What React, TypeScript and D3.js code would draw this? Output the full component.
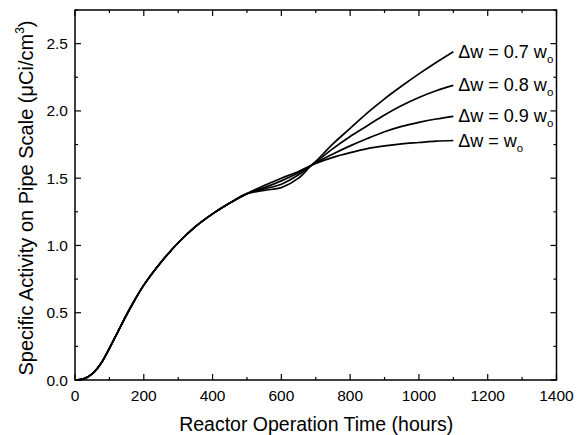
import React from "react";
import * as d3 from "d3";

const commonTime = [0, 25, 50, 75, 100, 125, 150, 175, 200, 250, 300, 350, 400, 450, 500];
const commonValue = [0, 0.008, 0.045, 0.12, 0.235, 0.36, 0.485, 0.6, 0.705, 0.875, 1.02, 1.14, 1.235, 1.315, 1.385];

const branchTime = [550, 600, 650, 683, 700, 750, 800, 850, 900, 950, 1000, 1050, 1100];
const series07 = [1.41, 1.43, 1.5, 1.585, 1.625, 1.755, 1.87, 1.985, 2.09, 2.185, 2.275, 2.36, 2.44];
const series08 = [1.42, 1.455, 1.525, 1.587, 1.62, 1.72, 1.81, 1.89, 1.97, 2.04, 2.1, 2.15, 2.19];
const series09 = [1.43, 1.48, 1.54, 1.589, 1.615, 1.68, 1.74, 1.795, 1.845, 1.885, 1.915, 1.94, 1.96];
const series10 = [1.445, 1.5, 1.55, 1.59, 1.61, 1.655, 1.69, 1.72, 1.74, 1.755, 1.765, 1.775, 1.78];

const seriesLabels = ["0.7 w", "0.8 w", "0.9 w", "w"];
const xTicks = [0, 200, 400, 600, 800, 1000, 1200, 1400];
const yTicks = [0, 0.5, 1.0, 1.5, 2.0, 2.5];

export default function App() {
  const W = 583, H = 435;
  const left = 75, right = 556.5, top = 10, bottom = 380;
  const x = d3.scaleLinear().domain([0, 1400]).range([left, right]);
  const y = d3.scaleLinear().domain([0, 2.75]).range([bottom, top]);
  const line = d3
    .line<[number, number]>()
    .x((d) => x(d[0]))
    .y((d) => y(d[1]))
    .curve(d3.curveCatmullRom.alpha(0.5));

  const common: [number, number][] = commonTime.map((t, i) => [t, commonValue[i]]);
  const allSeries = [series07, series08, series09, series10];
  const full = allSeries.map((s) => common.concat(branchTime.map((t, i) => [t, s[i]] as [number, number])));

  const xMinor = d3.range(0, 1401, 100);
  const yMinor = d3.range(0, 2.76, 0.25);
  const font = "Arial, 'Liberation Sans', Helvetica, sans-serif";

  return (
    <svg width={W} height={H} style={{ position: "absolute", left: 0, top: 0 }} fontFamily={font}>
      <rect x={0} y={0} width={W} height={H} fill="white" />
      <rect x={left} y={top} width={right - left} height={bottom - top} fill="none" stroke="black" strokeWidth={1.5} />
      {xMinor.map((t) => {
        const major = t % 200 === 0;
        const len = major ? 6 : 3;
        return (
          <g key={"xt" + t}>
            <line x1={x(t)} x2={x(t)} y1={bottom} y2={bottom - len} stroke="black" strokeWidth={1.2} />
            <line x1={x(t)} x2={x(t)} y1={top} y2={top + len} stroke="black" strokeWidth={1.2} />
          </g>
        );
      })}
      {yMinor.map((v) => {
        const major = Math.abs(v * 2 - Math.round(v * 2)) < 1e-6;
        const len = major ? 6 : 3;
        return (
          <g key={"yt" + v}>
            <line x1={left} x2={left + len} y1={y(v)} y2={y(v)} stroke="black" strokeWidth={1.2} />
            <line x1={right} x2={right - len} y1={y(v)} y2={y(v)} stroke="black" strokeWidth={1.2} />
          </g>
        );
      })}
      {xTicks.map((t) => (
        <text key={"xl" + t} x={x(t)} y={401} fontSize={15.5} textAnchor="middle">
          {t}
        </text>
      ))}
      {yTicks.map((v) => (
        <text key={"yl" + v} x={68} y={y(v) + 5.5} fontSize={15.5} textAnchor="end">
          {v.toFixed(1)}
        </text>
      ))}
      <text x={(left + right) / 2 + 0.5} y={431} fontSize={19.5} textAnchor="middle">
        Reactor Operation Time (hours)
      </text>
      <text transform={`translate(33, 198) rotate(-90)`} fontSize={20} textAnchor="middle">
        Specific Activity on Pipe Scale (
        <tspan>μCi/cm</tspan>
        <tspan dy={-9} fontSize={12}>3</tspan>
        <tspan dy={9}>)</tspan>
      </text>
      {full.map((b, i) => (
        <path key={"b" + i} d={line(b) || ""} fill="none" stroke="black" strokeWidth={1.7} />
      ))}
      {full.map((b, i) => {
        const last = b[b.length - 1];
        return (
          <text key={"lab" + i} x={x(last[0]) + 5} y={y(last[1]) + 6} fontSize={18}>
            {"Δw = " + seriesLabels[i]}
            <tspan dy={5} fontSize={11.5}>o</tspan>
          </text>
        );
      })}
    </svg>
  );
}
